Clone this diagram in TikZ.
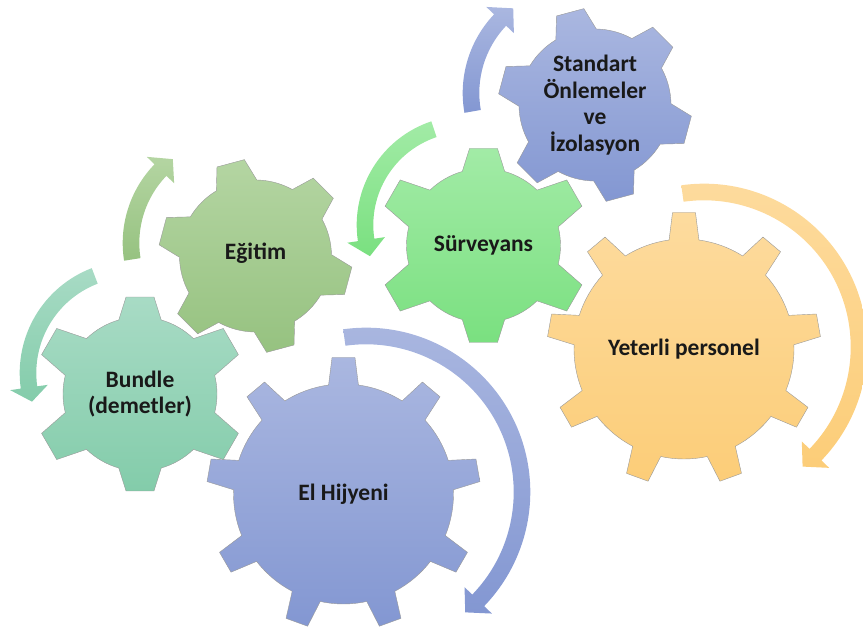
\documentclass[tikz,border=0pt]{standalone}
\usepackage{fontspec}
\setmainfont{Carlito}
\usetikzlibrary{positioning}

\definecolor{tealtop}{RGB}{168,219,197}
\definecolor{tealbot}{RGB}{131,204,170}
\definecolor{olivetop}{RGB}{180,213,162}
\definecolor{olivebot}{RGB}{150,194,128}
\definecolor{limetop}{RGB}{162,235,166}
\definecolor{limebot}{RGB}{122,224,128}
\definecolor{bluetop}{RGB}{170,183,224}
\definecolor{bluebot}{RGB}{131,151,210}
\definecolor{peachtop}{RGB}{253,219,158}
\definecolor{peachbot}{RGB}{252,205,120}

% gear: center, teeth, first angle, body radius, tip radius, side tip radius, base half angle, tip half angle, style
\newcommand{\cog}[9]{%
  \pgfmathsetmacro{\cogstep}{360/#2}
  \path[#9, shift={(#1)}] ({#3-#7}:#4)
    \foreach \k in {1,...,#2}{
      -- ({#3+(\k-1)*\cogstep-#8}:{ifthenelse(mod(\k-1,3)==0,#5,#6)})
      -- ({#3+(\k-1)*\cogstep+#8}:{ifthenelse(mod(\k-1,3)==0,#5,#6)})
      -- ({#3+(\k-1)*\cogstep+#7}:#4)
      arc[start angle={#3+(\k-1)*\cogstep+#7}, end angle={#3+\k*\cogstep-#7}, radius=#4]
    } -- cycle;}

% circular arrow: center, mid radius, start angle, head base angle, tip angle, style
\newcommand{\arcarrow}[6]{%
  \path[#6, shift={(#1)}] ({#3}:{#2+8.3})
    arc[start angle={#3}, end angle={#4}, radius={#2+8.3}]
    -- ({#4}:{#2+19}) -- ({#5}:{#2}) -- ({#4}:{#2-19}) -- ({#4}:{#2-8.3})
    arc[start angle={#4}, end angle={#3}, radius={#2-8.3}] -- cycle;}

\begin{document}
\begin{tikzpicture}[x=1pt, y=1pt,
    rim/.style={draw=black!40, line width=0.4pt},
    tag/.style={font=\fontsize{23.5}{26.5}\selectfont\bfseries, align=center, text=black!90}]
  \useasboundingbox (0,0) rectangle (863,637);

  % gear centres
  \coordinate (c bundle) at (140,243);
  \coordinate (c egitim) at (255.5,381);
  \coordinate (c surv) at (483.5,391.5);
  \coordinate (c std) at (595,532);
  \coordinate (c hand) at (343.5,143);
  \coordinate (c staff) at (684,288);

  % gears
  \cog{c bundle}{6}{90}{77}{98}{106}{16}{8.2}{rim, top color=tealtop, bottom color=tealbot}
  \cog{c egitim}{6}{105}{76}{97}{97}{16}{8.4}{rim, top color=olivetop, bottom color=olivebot}
  \cog{c surv}{6}{90}{77}{98}{106}{16}{8.2}{rim, top color=limetop, bottom color=limebot}
  \cog{c std}{6}{105}{76}{97}{97}{16}{8.4}{rim, top color=bluetop, bottom color=bluebot}
  \cog{c hand}{9}{90}{110}{137}{137}{7.8}{4.8}{rim, top color=bluetop, bottom color=bluebot}
  \cog{c staff}{9}{90}{110}{137}{137}{7.8}{4.8}{rim, top color=peachtop, bottom color=peachbot}

  % arrows
  \arcarrow{132,264}{104}{111}{188}{196}{top color=tealtop, bottom color=tealbot}
  \arcarrow{236,394}{105}{189}{136}{127}{top color=olivetop, bottom color=olivebot}
  \arcarrow{466,412}{101}{108.5}{188.5}{198}{top color=limetop, bottom color=limebot}
  \arcarrow{577,544}{106}{190}{136.5}{127}{top color=bluetop, bottom color=bluebot}
  \arcarrow{366,145}{156}{98}{-44}{-50.5}{top color=bluetop, bottom color=bluebot}
  \arcarrow{704,290}{155}{98}{-44}{-50.5}{top color=peachtop, bottom color=peachbot}

  % labels
  \node[tag] (bundle) at (c bundle) {Bundle\\(demetler)};
  \node[tag] (egitim) at ([yshift=3]c egitim) {Eğitim};
  \node[tag] (surv) at (c surv) {Sürveyans};
  \node[tag] (std) at (c std) {Standart\\Önlemeler\\ve\\İzolasyon};
  \node[tag] (hand) at (c hand) {El Hijyeni};
  \node[tag] (staff) at (c staff) {Yeterli personel};
\end{tikzpicture}
\end{document}
